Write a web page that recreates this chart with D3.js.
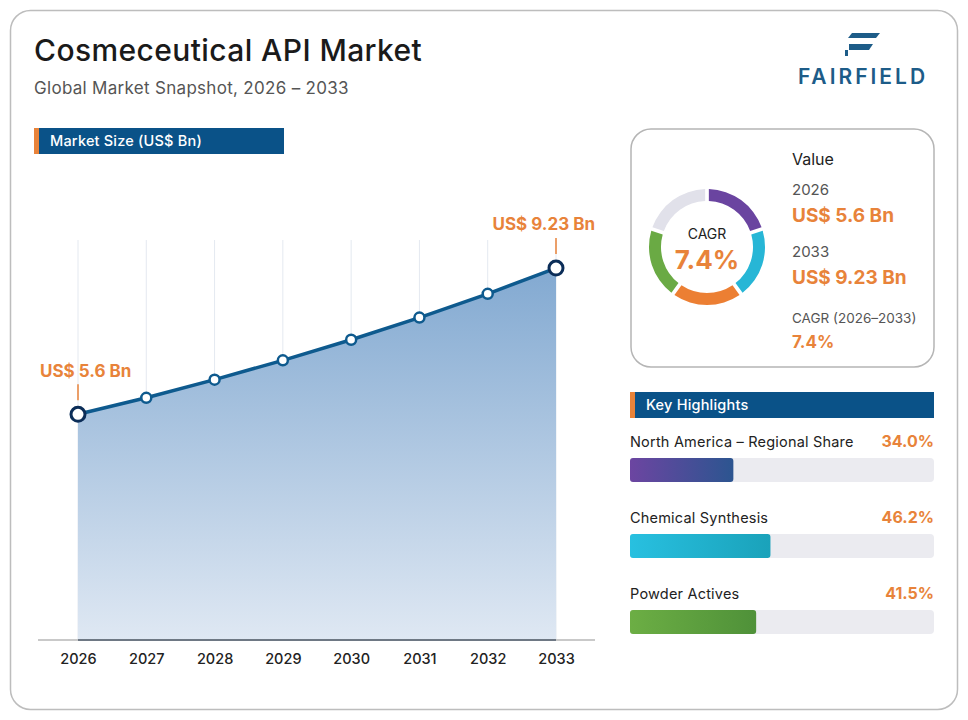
<!DOCTYPE html>
<html>
<head>
<meta charset="utf-8">
<script src="https://cdn.jsdelivr.net/npm/d3@7"></script>
<style>
  html, body { margin: 0; padding: 0; background: #fff; }
  svg { display: block; font-family: "Inter", "Noto Sans", sans-serif; }
</style>
</head>
<body>
<svg id="chart" width="968" height="720"></svg>
<script>
// data
const years = ["2026", "2027", "2028", "2029", "2030", "2031", "2032", "2033"];
const marketSize = [5.6, 6.01, 6.46, 6.94, 7.45, 8.0, 8.59, 9.23];
const donutSegments = ["seg1", "seg2", "seg3", "seg4", "seg5"];
const donutColors = ["#6a44a0", "#27b6d6", "#ec7f33", "#6aaa44", "#e1e1ea"];
const highlightLabels = ["North America \u2013 Regional Share", "Chemical Synthesis", "Powder Actives"];
const highlightValues = [34.0, 46.2, 41.5];
const highlightColors = [["#6c45a1", "#2c5590"], ["#28c0e0", "#1aa2ba"], ["#6cae44", "#4f9139"]];

const svg = d3.select("#chart");
const orange = "#e8833a";
const navy = "#0a5288";

// card
svg.append("rect")
    .attr("x", 10.5).attr("y", 10.5)
    .attr("width", 947).attr("height", 699)
    .attr("rx", 20)
    .attr("fill", "#fff")
    .attr("stroke", "#bdbdbd")
    .attr("stroke-width", 1.5);

// title
svg.append("text")
    .attr("x", 34).attr("y", 61)
    .attr("font-size", 30).attr("font-weight", 500)
    .attr("letter-spacing", 0.4)
    .attr("fill", "#1a1a1a")
    .text("Cosmeceutical API Market");

svg.append("text")
    .attr("x", 34).attr("y", 94)
    .attr("font-size", 17)
    .attr("letter-spacing", 0.3)
    .attr("fill", "#555")
    .text("Global Market Snapshot, 2026 \u2013 2033");

// logo
const logo = svg.append("g").attr("fill", "#1d5c88");
logo.append("path").attr("d", "M852,33 L880,33 L876,38 L848,38 Z");
logo.append("path").attr("d", "M849,44 L873,44 L869,50 L849,50 Z");
logo.append("path").attr("d", "M845,50 L848,50 L848,56 L845,56 Z");
svg.append("text")
    .attr("x", 863).attr("y", 84)
    .attr("text-anchor", "middle")
    .attr("font-size", 21).attr("font-weight", 600)
    .attr("letter-spacing", 3)
    .attr("fill", "#1d5c88")
    .text("FAIRFIELD");

// section header helper
function header(x, y, w, label) {
    svg.append("rect").attr("x", x).attr("y", y).attr("width", w).attr("height", 26).attr("fill", navy);
    svg.append("rect").attr("x", x).attr("y", y).attr("width", 5).attr("height", 26).attr("fill", orange);
    svg.append("text")
        .attr("x", x + 16).attr("y", y + 18)
        .attr("font-size", 14.5).attr("font-weight", 500)
        .attr("letter-spacing", 0.2)
        .attr("fill", "#fff")
        .text(label);
}
header(34, 128, 250, "Market Size (US$ Bn)");

// chart
const x = d3.scalePoint().domain(years).range([78, 556]);
const y = d3.scaleLinear().domain([0, 10]).range([640, 237]);

const defs = svg.append("defs");
const areaGrad = defs.append("linearGradient")
    .attr("id", "areaGrad")
    .attr("gradientUnits", "userSpaceOnUse")
    .attr("x1", 0).attr("x2", 0)
    .attr("y1", y(d3.max(marketSize))).attr("y2", y(0));
areaGrad.append("stop").attr("offset", "0%").attr("stop-color", "#82a9d1");
areaGrad.append("stop").attr("offset", "100%").attr("stop-color", "#dfe8f3");

// gridlines
svg.append("g")
    .selectAll("line")
    .data(years)
    .join("line")
    .attr("x1", d => x(d)).attr("x2", d => x(d))
    .attr("y1", 240).attr("y2", y(0))
    .attr("stroke", "#e4e9f0")
    .attr("stroke-width", 1);

const pts = years.map((yr, i) => ({ year: yr, value: marketSize[i] }));

svg.append("path")
    .datum(pts)
    .attr("fill", "url(#areaGrad)")
    .attr("d", d3.area().x(d => x(d.year)).y0(y(0)).y1(d => y(d.value)));

// axis
const axis = svg.append("g")
    .attr("transform", `translate(0,${y(0)})`)
    .call(d3.axisBottom(x).tickSize(0).tickPadding(14));
axis.select(".domain").remove();
axis.selectAll("text")
    .attr("font-size", 14.5).attr("font-weight", 500)
    .attr("fill", "#222")
    .attr("font-family", "Inter, sans-serif");
axis.append("line")
    .attr("x1", 38).attr("x2", 595)
    .attr("stroke", "#c9c9c9").attr("stroke-width", 2);
axis.append("line")
    .attr("x1", x(years[0])).attr("x2", x(years[years.length - 1]))
    .attr("stroke", "#6e7884").attr("stroke-width", 2);

svg.append("path")
    .datum(pts)
    .attr("fill", "none")
    .attr("stroke", "#0e5a8e")
    .attr("stroke-width", 3.5)
    .attr("stroke-linejoin", "round")
    .attr("d", d3.line().x(d => x(d.year)).y(d => y(d.value)));

svg.append("g")
    .selectAll("circle")
    .data(pts)
    .join("circle")
    .attr("cx", d => x(d.year))
    .attr("cy", d => y(d.value))
    .attr("r", (d, i) => (i === 0 || i === pts.length - 1) ? 7 : 5)
    .attr("fill", "#fff")
    .attr("stroke", (d, i) => (i === 0 || i === pts.length - 1) ? "#0b2d58" : "#0e5a8e")
    .attr("stroke-width", (d, i) => (i === 0 || i === pts.length - 1) ? 3 : 2.5);

// end labels
const first = pts[0], last = pts[pts.length - 1];
svg.append("line")
    .attr("x1", x(first.year)).attr("x2", x(first.year))
    .attr("y1", y(first.value) - 30).attr("y2", y(first.value) - 14)
    .attr("stroke", orange).attr("stroke-width", 1.5);
svg.append("text")
    .attr("x", 40).attr("y", y(first.value) - 37)
    .attr("font-size", 17).attr("font-weight", 700)
    .attr("fill", orange)
    .text(`US$ ${first.value} Bn`);
svg.append("line")
    .attr("x1", x(last.year)).attr("x2", x(last.year))
    .attr("y1", y(last.value) - 30).attr("y2", y(last.value) - 14)
    .attr("stroke", orange).attr("stroke-width", 1.5);
svg.append("text")
    .attr("x", 595).attr("y", y(last.value) - 38)
    .attr("text-anchor", "end")
    .attr("font-size", 17).attr("font-weight", 700)
    .attr("fill", orange)
    .text(`US$ ${last.value} Bn`);

// value card
svg.append("rect")
    .attr("x", 631).attr("y", 129)
    .attr("width", 303).attr("height", 238)
    .attr("rx", 20)
    .attr("fill", "#fff")
    .attr("stroke", "#b5b5b5").attr("stroke-width", 1.5);

const cagr = (Math.pow(last.value / first.value, 1 / (years.length - 1)) - 1) * 100;

const donut = svg.append("g").attr("transform", "translate(707,247)");
const pie = d3.pie().value(1).sort(null).padAngle(0.05);
const arc = d3.arc().innerRadius(46).outerRadius(58);
donut.selectAll("path")
    .data(pie(donutSegments))
    .join("path")
    .attr("d", arc)
    .attr("fill", (d, i) => donutColors[i]);
donut.append("text")
    .attr("y", -8).attr("text-anchor", "middle")
    .attr("font-size", 14).attr("fill", "#222")
    .text("CAGR");
donut.append("text")
    .attr("y", 22).attr("text-anchor", "middle")
    .attr("font-size", 26).attr("font-weight", 700)
    .attr("fill", orange)
    .text(cagr.toFixed(1) + "%");

const vx = 792;
svg.append("text").attr("x", vx).attr("y", 165).attr("font-size", 16).attr("fill", "#222").text("Value");
svg.append("text").attr("x", vx).attr("y", 195).attr("font-size", 15).attr("fill", "#555").text(first.year);
svg.append("text").attr("x", vx).attr("y", 222).attr("font-size", 19).attr("font-weight", 700).attr("fill", orange).text(`US$ ${first.value} Bn`);
svg.append("text").attr("x", vx).attr("y", 257).attr("font-size", 15).attr("fill", "#555").text(last.year);
svg.append("text").attr("x", vx).attr("y", 284).attr("font-size", 19).attr("font-weight", 700).attr("fill", orange).text(`US$ ${last.value} Bn`);
svg.append("text").attr("x", vx).attr("y", 323).attr("font-size", 13.5).attr("fill", "#555").text(`CAGR (${first.year}\u2013${last.year})`);
svg.append("text").attr("x", vx).attr("y", 348).attr("font-size", 17).attr("font-weight", 700).attr("fill", orange).text(cagr.toFixed(1) + "%");

// key highlights
header(630, 392, 304, "Key Highlights");

const bx = d3.scaleLinear().domain([0, 100]).range([0, 304]);
highlightLabels.forEach((label, i) => {
    const top = 447 + i * 76;
    const g = defs.append("linearGradient").attr("id", "hg" + i);
    g.append("stop").attr("offset", "0%").attr("stop-color", highlightColors[i][0]);
    g.append("stop").attr("offset", "100%").attr("stop-color", highlightColors[i][1]);

    svg.append("text")
        .attr("x", 630).attr("y", top)
        .attr("font-size", 14.5).attr("fill", "#222")
        .attr("letter-spacing", 0.2)
        .text(label);
    svg.append("text")
        .attr("x", 934).attr("y", top)
        .attr("text-anchor", "end")
        .attr("font-size", 16).attr("font-weight", 700)
        .attr("fill", orange)
        .text(highlightValues[i].toFixed(1) + "%");
    svg.append("rect")
        .attr("x", 630).attr("y", top + 11)
        .attr("width", bx(100)).attr("height", 24)
        .attr("rx", 4)
        .attr("fill", "#ebebf0");
    svg.append("rect")
        .attr("x", 630).attr("y", top + 11)
        .attr("width", bx(highlightValues[i])).attr("height", 24)
        .attr("rx", 3)
        .attr("fill", `url(#hg${i})`);
});
</script>
</body>
</html>
